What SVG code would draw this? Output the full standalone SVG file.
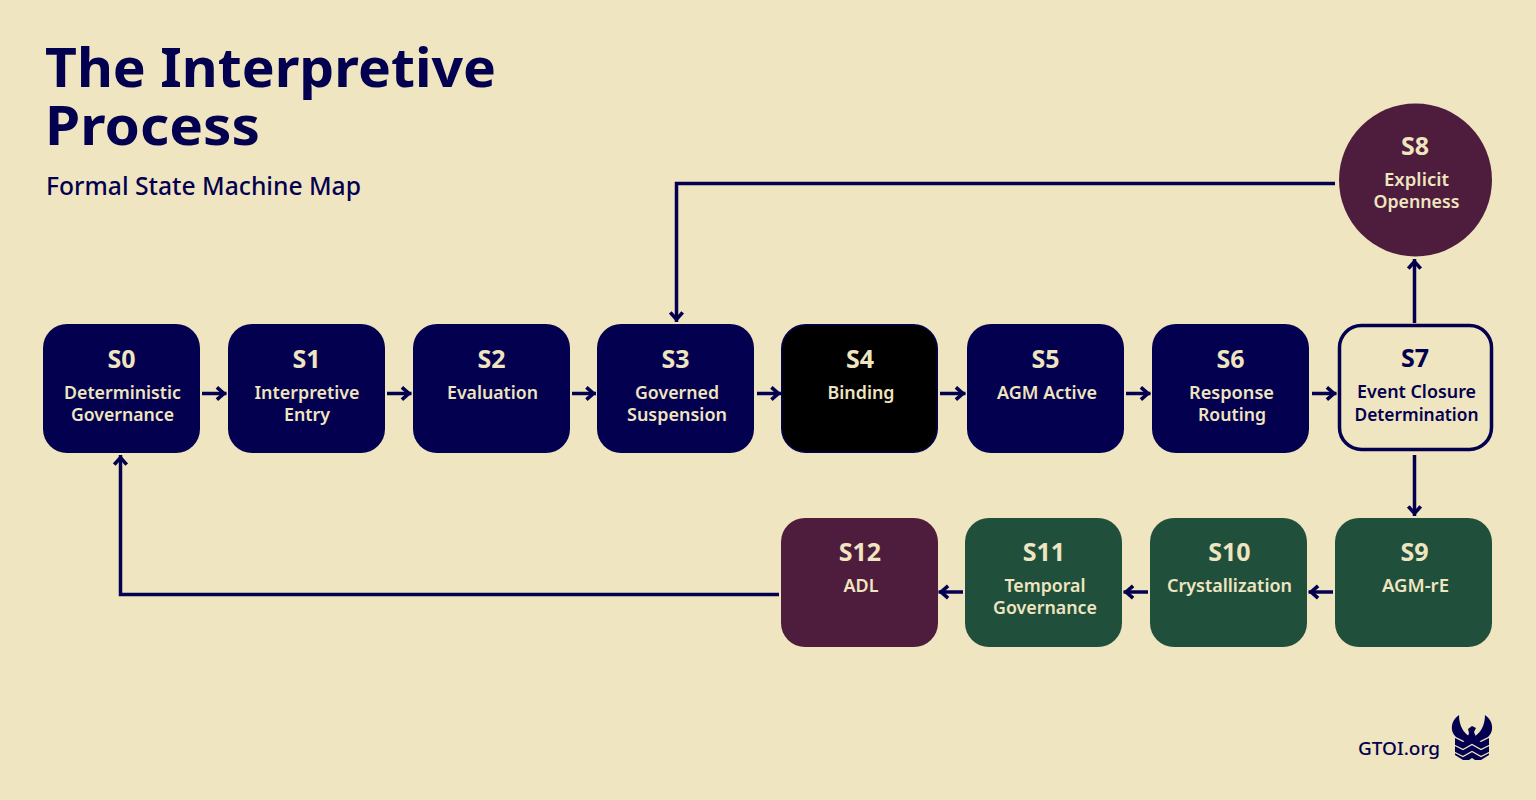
<svg xmlns="http://www.w3.org/2000/svg" width="1536" height="800" viewBox="0 0 1536 800">
<style>
text{font-family:"Noto Sans","Open Sans","DejaVu Sans",sans-serif;text-anchor:middle}
.t{font-size:53px;font-weight:700;fill:#03004f;text-anchor:start}
.sub{font-size:25px;font-weight:500;fill:#03004f;text-anchor:start}
.id{font-size:25px;font-weight:700;fill:#efe5c0}
.lb{font-size:18px;font-weight:600;fill:#efe5c0}
.dark .id,.dark .lb{fill:#03004f}
.navy{fill:#03004f}.black{fill:#000;stroke:#03004f;stroke-width:1.5}.green{fill:#20503c}.plum{fill:#4e1c3c}
.outline{fill:#efe5c0;stroke:#03004f;stroke-width:3.5}
.c{fill:none;stroke:#03004f;stroke-width:3.5}
</style>
<defs><marker id="a" viewBox="0 0 16 16" refX="13.600" refY="8" markerWidth="16" markerHeight="16" markerUnits="userSpaceOnUse" orient="auto"><path d="M4 1.800L11 8L4 14.200" fill="none" stroke="#03004f" stroke-width="3.600"/></marker></defs>
<rect width="1536" height="800" fill="#efe5c0"/>
<g id="title"><text class="t" x="45" y="87" textLength="451" lengthAdjust="spacingAndGlyphs">The Interpretive</text><text class="t" x="45" y="145" textLength="215" lengthAdjust="spacingAndGlyphs">Process</text><text class="sub" x="46" y="195" textLength="315" lengthAdjust="spacingAndGlyphs">Formal State Machine Map</text></g>
<g id="connectors">
<path class="c" marker-end="url(#a)" d="M202 393.500H226.500"/>
<path class="c" marker-end="url(#a)" d="M387 393.500H411.500"/>
<path class="c" marker-end="url(#a)" d="M572 393.500H596"/>
<path class="c" marker-end="url(#a)" d="M757 393.500H781"/>
<path class="c" marker-end="url(#a)" d="M940 393.500H965.500"/>
<path class="c" marker-end="url(#a)" d="M1126 393.500H1150.500"/>
<path class="c" marker-end="url(#a)" d="M1312 393.500H1336.500"/>
<path class="c" marker-end="url(#a)" d="M1414.500 323V259"/>
<path class="c" marker-end="url(#a)" d="M1414.500 455V516"/>
<path class="c" marker-end="url(#a)" d="M1335 183.500H676.500V322"/>
<path class="c" marker-end="url(#a)" d="M1333 592H1308.500"/>
<path class="c" marker-end="url(#a)" d="M1148 592H1123.500"/>
<path class="c" marker-end="url(#a)" d="M963 592H938.500"/>
<path class="c" marker-end="url(#a)" d="M779 594.500H120.500V455"/>
</g>
<g id="s0"><rect class="navy" x="43" y="324" width="157" height="129" rx="24"/><text class="id" x="121.500" y="368">S0</text><text class="lb" x="122.500" y="399" textLength="117" lengthAdjust="spacingAndGlyphs">Deterministic</text><text class="lb" x="122.500" y="421" textLength="103" lengthAdjust="spacingAndGlyphs">Governance</text></g>
<g id="s1"><rect class="navy" x="228" y="324" width="157" height="129" rx="24"/><text class="id" x="306.500" y="368">S1</text><text class="lb" x="307" y="399" textLength="105" lengthAdjust="spacingAndGlyphs">Interpretive</text><text class="lb" x="307" y="421" textLength="46" lengthAdjust="spacingAndGlyphs">Entry</text></g>
<g id="s2"><rect class="navy" x="413" y="324" width="157" height="129" rx="24"/><text class="id" x="491.500" y="368">S2</text><text class="lb" x="492.500" y="399" textLength="91" lengthAdjust="spacingAndGlyphs">Evaluation</text></g>
<g id="s3"><rect class="navy" x="597" y="324" width="157" height="129" rx="24"/><text class="id" x="675.500" y="368">S3</text><text class="lb" x="677" y="399" textLength="84" lengthAdjust="spacingAndGlyphs">Governed</text><text class="lb" x="677" y="421" textLength="100" lengthAdjust="spacingAndGlyphs">Suspension</text></g>
<g id="s4"><rect class="black" x="781.750" y="324.750" width="155.500" height="127.500" rx="24"/><text class="id" x="860" y="368">S4</text><text class="lb" x="861" y="399" textLength="67" lengthAdjust="spacingAndGlyphs">Binding</text></g>
<g id="s5"><rect class="navy" x="967" y="324" width="157" height="129" rx="24"/><text class="id" x="1045.500" y="368">S5</text><text class="lb" x="1047" y="399" textLength="100" lengthAdjust="spacingAndGlyphs">AGM Active</text></g>
<g id="s6"><rect class="navy" x="1152" y="324" width="157" height="129" rx="24"/><text class="id" x="1230.500" y="368">S6</text><text class="lb" x="1231.500" y="399" textLength="85" lengthAdjust="spacingAndGlyphs">Response</text><text class="lb" x="1232" y="421" textLength="68" lengthAdjust="spacingAndGlyphs">Routing</text></g>
<g id="s7" class="dark"><rect class="outline" x="1339.500" y="325.500" width="152" height="124" rx="22"/><text class="id" x="1415" y="367">S7</text><text class="lb" x="1416.500" y="398" textLength="119" lengthAdjust="spacingAndGlyphs">Event Closure</text><text class="lb" x="1416.500" y="421" textLength="124" lengthAdjust="spacingAndGlyphs">Determination</text></g>
<g id="s8"><circle class="plum" cx="1415.500" cy="180" r="76.500"/><text class="id" x="1415" y="155">S8</text><text class="lb" x="1416.500" y="186" textLength="65" lengthAdjust="spacingAndGlyphs">Explicit</text><text class="lb" x="1416.500" y="208" textLength="86" lengthAdjust="spacingAndGlyphs">Openness</text></g>
<g id="s9"><rect class="green" x="1335" y="518" width="157" height="129" rx="24"/><text class="id" x="1414.500" y="561">S9</text><text class="lb" x="1415.500" y="592" textLength="67" lengthAdjust="spacingAndGlyphs">AGM-rE</text></g>
<g id="s10"><rect class="green" x="1150" y="518" width="157" height="129" rx="24"/><text class="id" x="1229.500" y="561">S10</text><text class="lb" x="1229.500" y="592" textLength="125" lengthAdjust="spacingAndGlyphs">Crystallization</text></g>
<g id="s11"><rect class="green" x="965" y="518" width="157" height="129" rx="24"/><text class="id" x="1044" y="561">S11</text><text class="lb" x="1045" y="592" textLength="81" lengthAdjust="spacingAndGlyphs">Temporal</text><text class="lb" x="1045" y="614" textLength="104" lengthAdjust="spacingAndGlyphs">Governance</text></g>
<g id="s12"><rect class="plum" x="781" y="518" width="157" height="129" rx="24"/><text class="id" x="860" y="561">S12</text><text class="lb" x="861" y="592" textLength="35" lengthAdjust="spacingAndGlyphs">ADL</text></g>
<g id="brand"><text x="1358" y="755" font-size="18.500" font-weight="500" fill="#03004f" style="text-anchor:start" textLength="82" lengthAdjust="spacingAndGlyphs">GTOI.org</text>
<path fill="#03004f" d="M1459 715C1450 721 1450 732 1456 737L1466 742L1469 736C1464 733 1459 726 1459 715Z"/>
<path fill="#03004f" d="M1485 715C1494 721 1494 732 1488 737L1478 742L1475 736C1480 733 1485 726 1485 715Z"/>
<path fill="#03004f" d="M1466 742L1469 733L1468 729L1472 726L1476 728L1474 732L1478 742L1472 738Z"/>
<path fill="#03004f" d="M1455 738L1463 742L1472 737L1481 742L1489 738V755L1481 760H1475L1472 758L1469 760H1463L1455 755Z"/>
<path fill="none" stroke="#efe5c0" stroke-width="1.300" d="M1454 745L1463 749.500L1472 744.500L1481 749.500L1490 745M1454 752L1463 756.500L1472 751.500L1481 756.500L1490 752"/></g>
</svg>
